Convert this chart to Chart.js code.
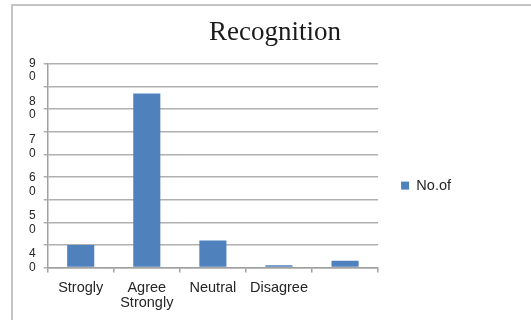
<!DOCTYPE html>
<html lang="en">
<head>
  <meta charset="UTF-8">
  <title>Recognition</title>
  <script src="https://cdn.jsdelivr.net/npm/chart.js"></script>
  <style>
    html, body {
      margin: 0;
      padding: 0;
      background: #ffffff;
      overflow: hidden;
    }
    #frame {
      position: absolute;
      left: 11px;
      top: 4px;
      width: 530px;
      height: 330px;
      border-top: 2px solid #c4c4c4;
      border-left: 2px solid #c4c4c4;
    }
    #wrap {
      position: absolute;
      left: 0;
      top: 0;
      width: 531px;
      height: 320px;
    }
  </style>
</head>
<body>
  <div id="frame"></div>
  <div id="wrap"><canvas id="chart" width="531" height="320"></canvas></div>

  <script>
    const categories = ['Strogly', ['Agree', 'Strongly'], 'Neutral', 'Disagree', ''];
    const seriesName = 'No.of';
    const counts = [10, 77, 12, 1, 3];
    // stacked tick text shown down the left side, bottom to top
    const yTickLabels = ['40', '50', '60', '70', '80', '90'];

    const gridGray = '#b0b0b0';
    const axisGray = '#a0a0a0';
    const textColor = '#262626';
    const sans = "'Liberation Sans', Arial, sans-serif";

    new Chart(document.getElementById('chart').getContext('2d'), {
      type: 'bar',
      data: {
        labels: categories,
        datasets: [{
          label: seriesName,
          data: counts,
          backgroundColor: '#4f81bd',
          borderWidth: 0,
          categoryPercentage: 1,
          barPercentage: 0.41
        }]
      },
      options: {
        responsive: false,
        animation: false,
        layout: {
          padding: { left: 21, right: 2, top: 0, bottom: 1 }
        },
        plugins: {
          title: {
            display: true,
            text: 'Recognition',
            color: '#1a1a1a',
            font: { family: "'Liberation Serif', 'Times New Roman', serif", size: 27, weight: 'normal' },
            padding: { top: 17, bottom: 14.6 }
          },
          legend: {
            position: 'right',
            align: 'center',
            // empty title only pushes the single entry a little below centre
            title: {
              display: true,
              text: '',
              font: { size: 1 },
              padding: { top: 51, bottom: 0 }
            },
            labels: {
              color: textColor,
              font: { family: sans, size: 14.5 },
              boxWidth: 8,
              boxHeight: 8,
              padding: 23
            }
          },
          tooltip: { enabled: false }
        },
        scales: {
          x: {
            grid: {
              display: true,
              drawOnChartArea: false,
              offset: true,
              color: axisGray,
              lineWidth: 1.5,
              tickLength: 5
            },
            border: { color: axisGray, width: 1.5 },
            ticks: {
              color: textColor,
              font: { family: sans, size: 14.5, lineHeight: 1.05 },
              padding: 8,
              maxRotation: 0,
              autoSkip: false
            }
          },
          y: {
            position: 'left',
            weight: 0,
            min: 0,
            max: 90,
            grid: {
              color: gridGray,
              lineWidth: 1.5,
              tickLength: 4
            },
            border: { color: axisGray, width: 1.5 },
            ticks: {
              display: false,
              stepSize: 10
            }
          },
          yText: {
            type: 'linear',
            position: 'left',
            weight: 1,
            min: -0.18,
            max: 5.16,
            grid: { display: false, drawTicks: false },
            border: { display: false },
            ticks: {
              stepSize: 1,
              includeBounds: false,
              padding: 8,
              color: textColor,
              font: { family: sans, size: 12, lineHeight: 1.15 },
              callback: v => Number.isInteger(v) && yTickLabels[v] ? yTickLabels[v].split('') : ''
            }
          },
          // hidden strip to the right of the legend, it only reserves width
          rightGap: {
            type: 'linear',
            position: 'right',
            weight: 1500,
            display: false,
            afterFit: scale => { scale.width = 68; }
          }
        }
      }
    });
  </script>
</body>
</html>
